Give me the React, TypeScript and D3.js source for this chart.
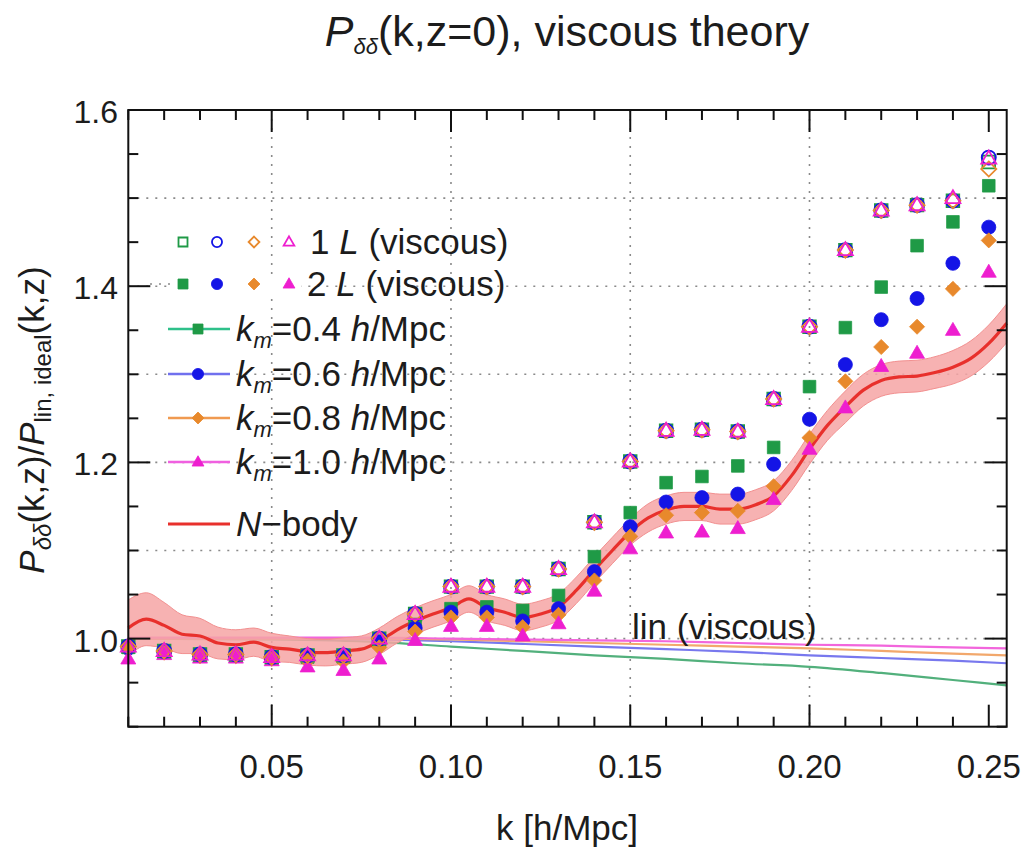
import React from "react";
import * as d3 from "d3";

// ---------- data ----------
const K_PTS = [0.01, 0.02, 0.03, 0.04, 0.05, 0.06, 0.07, 0.08, 0.09, 0.10, 0.11, 0.12, 0.13,
  0.14, 0.15, 0.16, 0.17, 0.18, 0.19, 0.20, 0.21, 0.22, 0.23, 0.24, 0.25];

// 1-loop (open markers)
const L1_KM04 = [0.991, 0.986, 0.982, 0.982, 0.979, 0.981, 0.981, 1.000, 1.028, 1.059, 1.059, 1.059, 1.079,
  1.132, 1.201, 1.236, 1.237, 1.235, 1.272, 1.354, 1.441, 1.486, 1.492, 1.497, 1.541];
const L1_KM06 = [0.991, 0.986, 0.982, 0.982, 0.979, 0.981, 0.981, 1.000, 1.028, 1.059, 1.059, 1.059, 1.079,
  1.132, 1.201, 1.236, 1.237, 1.235, 1.272, 1.354, 1.441, 1.486, 1.492, 1.497, 1.546];
const L1_KM08 = [0.991, 0.986, 0.982, 0.982, 0.979, 0.981, 0.981, 1.000, 1.028, 1.059, 1.059, 1.059, 1.079,
  1.132, 1.201, 1.236, 1.237, 1.235, 1.272, 1.354, 1.441, 1.486, 1.492, 1.497, 1.533];
const L1_KM10 = [0.991, 0.986, 0.982, 0.982, 0.979, 0.981, 0.981, 1.000, 1.028, 1.059, 1.059, 1.059, 1.079,
  1.132, 1.201, 1.236, 1.237, 1.235, 1.272, 1.354, 1.441, 1.486, 1.492, 1.500, 1.545];

// 2-loop (filled markers)
const L2_KM04 = [0.990, 0.986, 0.982, 0.982, 0.979, 0.979, 0.979, 0.997, 1.016, 1.034, 1.036, 1.032, 1.049,
  1.093, 1.143, 1.177, 1.184, 1.196, 1.217, 1.286, 1.353, 1.399, 1.446, 1.473, 1.514];
const L2_KM06 = [0.989, 0.985, 0.981, 0.981, 0.978, 0.978, 0.978, 0.996, 1.012, 1.030, 1.030, 1.020, 1.034,
  1.076, 1.127, 1.155, 1.160, 1.164, 1.198, 1.249, 1.311, 1.362, 1.386, 1.426, 1.467];
const L2_KM08 = [0.988, 0.984, 0.980, 0.980, 0.977, 0.975, 0.974, 0.990, 1.008, 1.024, 1.024, 1.013, 1.027,
  1.066, 1.116, 1.140, 1.143, 1.145, 1.173, 1.228, 1.292, 1.331, 1.354, 1.397, 1.452];
const L2_KM10 = [0.977, 0.982, 0.978, 0.978, 0.975, 0.968, 0.964, 0.977, 0.998, 1.014, 1.014, 1.003, 1.017,
  1.054, 1.102, 1.120, 1.121, 1.125, 1.158, 1.215, 1.262, 1.309, 1.324, 1.350, 1.416];

// linear viscous curves
const LIN_K = [0.01, 0.05, 0.08, 0.10, 0.12, 0.14, 0.16, 0.18, 0.20, 0.22, 0.24, 0.255];
const LIN_KM04 = [1.000, 0.999, 0.996, 0.991, 0.986, 0.981, 0.977, 0.972, 0.968, 0.961, 0.953, 0.947];
const LIN_KM06 = [1.000, 1.000, 0.999, 0.997, 0.994, 0.991, 0.988, 0.985, 0.981, 0.978, 0.975, 0.972];
const LIN_KM08 = [1.000, 1.000, 1.000, 0.999, 0.997, 0.995, 0.993, 0.991, 0.989, 0.986, 0.983, 0.981];
const LIN_KM10 = [1.001, 1.001, 1.001, 1.000, 0.999, 0.998, 0.997, 0.995, 0.993, 0.992, 0.990, 0.989];

// N-body
const NB_K = [0.010, 0.015, 0.020, 0.025, 0.030, 0.035, 0.040, 0.045, 0.050, 0.055, 0.060, 0.065, 0.070,
  0.075, 0.080, 0.085, 0.090, 0.095, 0.100, 0.105, 0.110, 0.115, 0.120, 0.125, 0.130, 0.135, 0.140,
  0.145, 0.150, 0.155, 0.160, 0.165, 0.170, 0.175, 0.180, 0.185, 0.190, 0.195, 0.200, 0.205, 0.210,
  0.215, 0.220, 0.225, 0.230, 0.235, 0.240, 0.245, 0.250, 0.255];
const NB_VAL = [1.012, 1.022, 1.015, 1.005, 1.003, 0.995, 0.993, 0.996, 0.990, 0.988, 0.985, 0.984, 0.986,
  0.988, 0.997, 1.010, 1.020, 1.028, 1.035, 1.045, 1.035, 1.030, 1.024, 1.028, 1.036, 1.055, 1.078,
  1.100, 1.121, 1.137, 1.146, 1.150, 1.150, 1.147, 1.147, 1.152, 1.162, 1.185, 1.215, 1.242, 1.263,
  1.282, 1.293, 1.297, 1.298, 1.302, 1.308, 1.318, 1.335, 1.358];
const NB_ERR = [0.032, 0.030, 0.026, 0.022, 0.020, 0.018, 0.017, 0.016, 0.016, 0.015, 0.015, 0.015, 0.015,
  0.015, 0.015, 0.015, 0.015, 0.015, 0.015, 0.015, 0.015, 0.015, 0.015, 0.015, 0.015, 0.015, 0.015,
  0.015, 0.015, 0.016, 0.016, 0.016, 0.016, 0.017, 0.017, 0.017, 0.017, 0.017, 0.017, 0.017, 0.018,
  0.018, 0.018, 0.018, 0.018, 0.018, 0.019, 0.020, 0.021, 0.022];

const X_TICKS = [0.05, 0.10, 0.15, 0.20, 0.25];
const X_TICK_LABELS = ["0.05", "0.10", "0.15", "0.20", "0.25"];
const Y_TICKS = [1.0, 1.2, 1.4, 1.6];
const Y_TICK_LABELS = ["1.0", "1.2", "1.4", "1.6"];
const X_GRID = [0.05, 0.10, 0.15, 0.20];
const Y_GRID = [1.0, 1.1, 1.2, 1.3, 1.4, 1.5];
const KM_LABELS = ["0.4", "0.6", "0.8", "1.0"];

// ---------- style ----------
const FONT = "'Liberation Sans', Arial, Helvetica, sans-serif";
const TXT = "#1c1c1c";
const C_GREEN = "#1f9a46";
const C_BLUE = "#1414e6";
const C_ORANGE = "#e8892c";
const C_MAGENTA = "#ee1ecf";
const LIN_COLORS = ["#52b07c", "#7878ee", "#f2a86c", "#f266dc"];
const LEG_LINE_COLORS = ["#2ec08a", "#7070ee", "#f09a50", "#f060e0"];
const SERIES_COLORS = [C_GREEN, C_BLUE, C_ORANGE, C_MAGENTA];
const SHAPES = ["square", "circle", "diamond", "triangle"];

const W = 1028, H = 852;
const PL = 128.3, PR = 1006.7, PT = 110, PB = 726.7;

const x = d3.scaleLinear().domain([0.01, 0.255]).range([PL, PR]);
const y = d3.scaleLinear().domain([0.9, 1.6]).range([PB, PT]);

function markerPath(shape: string, s: number): string {
  if (shape === "square") return `M${-s},${-s}H${s}V${s}H${-s}Z`;
  if (shape === "circle") return d3.symbol(d3.symbolCircle, Math.PI * s * s * 1.25)() as string;
  if (shape === "diamond") { const r = s * 1.2; return `M0,${-r}L${r},0L0,${r}L${-r},0Z`; }
  const r = s * 1.25; return `M0,${-r}L${r * 0.95},${r * 0.65}L${-r * 0.95},${r * 0.65}Z`;
}

function Marker({ shape, cx, cy, color, open, s = 6.3 }: any) {
  return (
    <path
      d={markerPath(shape, s)}
      transform={`translate(${cx},${cy})`}
      fill={open ? "none" : color}
      stroke={color}
      strokeWidth={open ? 1.8 : 0.8}
    />
  );
}

export default function App() {
  const L1 = [L1_KM04, L1_KM06, L1_KM08, L1_KM10];
  const L2 = [L2_KM04, L2_KM06, L2_KM08, L2_KM10];
  const LIN = [LIN_KM04, LIN_KM06, LIN_KM08, LIN_KM10];

  const linGen = d3.line<number>()
    .x((_, i) => x(LIN_K[i]))
    .y((d) => y(d))
    .curve(d3.curveMonotoneX);

  const nbLine = d3.line<number>()
    .x((_, i) => x(NB_K[i]))
    .y((d) => y(d))
    .curve(d3.curveMonotoneX);
  const nbArea = d3.area<number>()
    .x((_, i) => x(NB_K[i]))
    .y0((d, i) => y(d - NB_ERR[i]))
    .y1((d, i) => y(d + NB_ERR[i]))
    .curve(d3.curveMonotoneX);

  const xMinor = d3.range(1, 26).map((i) => i / 100);
  const yMinor = d3.range(0, 15).map((i) => 0.9 + i * 0.05);

  const legX0 = 183, legDX = [0, 34, 71, 106];
  const rowsY = [242, 284, 329, 374, 418, 462, 524];
  const legFont = 35;

  return (
    <svg width={W} height={H} style={{ display: "block", position: "absolute", left: 0, top: 0 }} fontFamily={FONT}>
      <rect x={0} y={0} width={W} height={H} fill="#fff" />
      {/* title */}
      <text x={567} y={46} textAnchor="middle" fontSize={43} fill={TXT}>
        <tspan fontStyle="italic">P</tspan>
        <tspan fontStyle="italic" fontSize={22} dy={8}>δδ</tspan>
        <tspan dy={-8}>(k,z=0), viscous theory</tspan>
      </text>

      {/* grid */}
      <g stroke="#8a8a8a" strokeWidth={1.6} strokeDasharray="2,7">
        {X_GRID.map((v) => <line key={"gx" + v} x1={x(v)} x2={x(v)} y1={PT} y2={PB} />)}
        {Y_GRID.map((v) => <line key={"gy" + v} x1={PL} x2={PR} y1={y(v)} y2={y(v)} />)}
      </g>

      {/* reference line at 1 */}
      <line x1={x(0.01)} x2={x(0.09)} y1={y(1)} y2={y(1)} stroke="#222" strokeWidth={2} />

      {/* linear viscous curves */}
      {LIN.map((arr, i) => (
        <path key={"lin" + i} d={linGen(arr) as string} fill="none" stroke={LIN_COLORS[i]} strokeWidth={2.2} />
      ))}

      {/* N-body band and line */}
      <path d={nbArea(NB_VAL) as string} fill="#f6a4a4" fillOpacity={0.85} stroke="#f29090" strokeWidth={1} />
      <path d={nbLine(NB_VAL) as string} fill="none" stroke="#e8302c" strokeWidth={3.2} />

      {/* 2-loop filled markers */}
      {L2.map((arr, si) =>
        arr.map((v, i) => (
          <Marker key={`f${si}-${i}`} shape={SHAPES[si]} cx={x(K_PTS[i])} cy={y(v)} color={SERIES_COLORS[si]} open={false} />
        ))
      )}
      {/* 1-loop open markers */}
      {L1.map((arr, si) =>
        arr.map((v, i) => (
          <Marker key={`o${si}-${i}`} shape={SHAPES[si]} cx={x(K_PTS[i])} cy={y(v)} color={SERIES_COLORS[si]} open={true} />
        ))
      )}

      {/* lin (viscous) label */}
      <text x={632} y={639} fontSize={35} fill={TXT}>lin (viscous)</text>

      {/* frame */}
      <rect x={PL} y={PT} width={PR - PL} height={PB - PT} fill="none" stroke="#111" strokeWidth={2} />

      {/* ticks */}
      <g stroke="#111" strokeWidth={2}>
        {xMinor.map((v) => {
          const major = Math.abs(Math.round(v * 100) % 5) === 0;
          const len = major ? 22 : 10;
          return (
            <g key={"xt" + v}>
              <line x1={x(v)} x2={x(v)} y1={PB} y2={PB - len} />
              <line x1={x(v)} x2={x(v)} y1={PT} y2={PT + len} />
            </g>
          );
        })}
        {yMinor.map((v, i) => {
          const major = i % 4 === 2;
          const len = major ? 22 : 10;
          return (
            <g key={"yt" + i}>
              <line x1={PL} x2={PL + len} y1={y(v)} y2={y(v)} />
              <line x1={PR} x2={PR - len} y1={y(v)} y2={y(v)} />
            </g>
          );
        })}
      </g>

      {/* tick labels */}
      {X_TICKS.map((v, i) => (
        <text key={"xl" + v} x={x(v)} y={778} textAnchor="middle" fontSize={33} fill={TXT}>{X_TICK_LABELS[i]}</text>
      ))}
      {Y_TICKS.map((v, i) => (
        <text key={"yl" + v} x={118} y={y(v) + 13} textAnchor="end" fontSize={32} fill={TXT}>{Y_TICK_LABELS[i]}</text>
      ))}

      {/* axis labels */}
      <text x={567} y={840} textAnchor="middle" fontSize={35} fill={TXT}>k [h/Mpc]</text>
      <text transform={`translate(44,420) rotate(-90)`} textAnchor="middle" fontSize={35} fill={TXT}>
        <tspan fontStyle="italic">P</tspan>
        <tspan fontStyle="italic" fontSize={24} dy={7}>δδ</tspan>
        <tspan dy={-7}>(k,z)/</tspan>
        <tspan fontStyle="italic">P</tspan>
        <tspan fontSize={24} dy={7}>lin, ideal</tspan>
        <tspan dy={-7}>(k,z)</tspan>
      </text>

      {/* legend */}
      <g>
        {SHAPES.map((sh, i) => (
          <Marker key={"lo" + i} shape={sh} cx={legX0 + legDX[i]} cy={rowsY[0]} color={SERIES_COLORS[i]} open={true} s={4.5} />
        ))}
        <text x={310} y={rowsY[0] + 12} fontSize={legFont} fill={TXT}>1 <tspan fontStyle="italic">L</tspan> (viscous)</text>
        <line x1={150} x2={300} y1={rowsY[1]} y2={rowsY[1]} stroke="#8a8a8a" strokeWidth={1.6} strokeDasharray="2,7" />
        <rect x={legX0 - 10} y={rowsY[1] - 10} width={128} height={20} fill="#fff" />
        {SHAPES.map((sh, i) => (
          <Marker key={"lf" + i} shape={sh} cx={legX0 + legDX[i]} cy={rowsY[1]} color={SERIES_COLORS[i]} open={false} s={5} />
        ))}
        <text x={307} y={rowsY[1] + 12} fontSize={legFont} fill={TXT}>2 <tspan fontStyle="italic">L</tspan> (viscous)</text>
        {KM_LABELS.map((lab, i) => {
          const ry = rowsY[2 + i];
          return (
            <g key={"lk" + i}>
              <line x1={168} x2={230} y1={ry} y2={ry} stroke={LEG_LINE_COLORS[i]} strokeWidth={2.4} />
              <Marker shape={SHAPES[i]} cx={198} cy={ry} color={SERIES_COLORS[i]} open={false} s={5} />
              <text x={236} y={ry + 12} fontSize={legFont} fill={TXT}>
                <tspan fontStyle="italic">k</tspan>
                <tspan fontStyle="italic" fontSize={22} dy={7}>m</tspan>
                <tspan dy={-7}>={lab} </tspan>
                <tspan fontStyle="italic">h</tspan>
                <tspan>/Mpc</tspan>
              </text>
            </g>
          );
        })}
        <line x1={168} x2={230} y1={rowsY[6]} y2={rowsY[6]} stroke="#e8302c" strokeWidth={3} />
        <text x={236} y={rowsY[6] + 12} fontSize={legFont} fill={TXT}>
          <tspan fontStyle="italic">N</tspan>−body
        </text>
      </g>
    </svg>
  );
}
